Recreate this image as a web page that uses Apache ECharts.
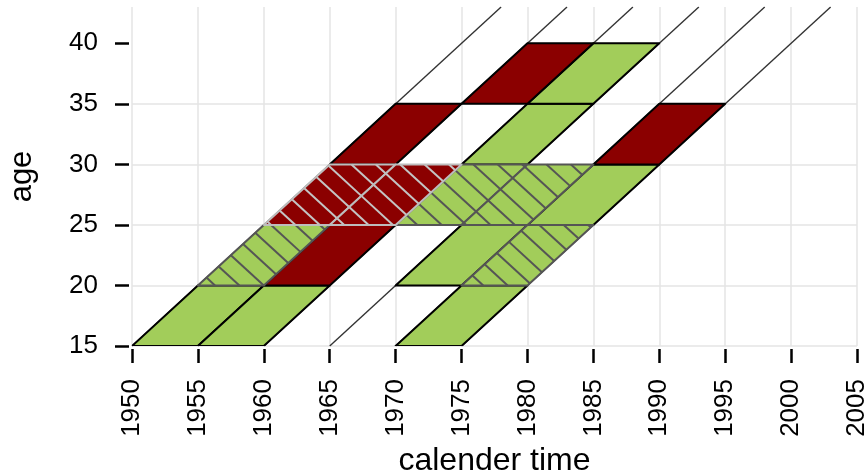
<!DOCTYPE html>
<html><head><meta charset="utf-8">
<script src="https://cdn.jsdelivr.net/npm/echarts@6/dist/echarts.min.js"></script>
<style>html,body{margin:0;padding:0;background:#fff}#c{width:866px;height:474px}</style>
</head><body><div id="c"></div>
<script>
// ---- data ----
const yearTicks = [1950,1955,1960,1965,1970,1975,1980,1985,1990,1995,2000,2005];
const ageTicks = [15,20,25,30,35,40];
const ageMin = 15, ageMax = 43;
const band = 5; // width of age / period band (years)
// cells: [calendar year at lower-left corner, age at lower edge]
const greenCells = [[1950,15],[1955,15],[1970,15],[1970,20],[1980,25],[1975,30],[1980,35]];
const redCells = [[1960,20],[1965,30],[1985,30],[1975,35]];
const greenHatchedCells = [[1955,20],[1975,20],[1970,25],[1975,25]];
const redHatchedCells = [[1960,25],[1965,25]];
// life lines start at age 15 in these years
const lifelineStarts = [1950,1955,1960,1965,1970,1975];

const GREEN = '#A2CD5A', RED = '#8B0000';
const hatchStep = 1.85, hatchPhase = 1980;
const FONT = 'Liberation Sans, Arial, sans-serif';

function makeRender(fill, stroke, hatchColor) {
  return function (params, api) {
    const x0 = api.value(0), a = api.value(1);
    const corners = [[x0, a], [x0 + band, a], [x0 + 2 * band, a + band], [x0 + band, a + band]];
    const pts = corners.map(p => api.coord(p));
    const children = [{ type: 'polygon', shape: { points: pts }, style: { fill: fill, stroke: null } }];
    if (hatchColor) {
      const u0 = x0 - a;
      const cmin = x0 + a, cmax = x0 + 3 * band + a;
      const k0 = Math.ceil((cmin - hatchPhase) / hatchStep), k1 = Math.floor((cmax - hatchPhase) / hatchStep);
      for (let k = k0; k <= k1; k++) {
        const c = hatchPhase + k * hatchStep;
        const lo = Math.max(a, (c - u0 - band) / 2), hi = Math.min(a + band, (c - u0) / 2);
        if (hi - lo > 1e-6) {
          const p1 = api.coord([c - lo, lo]), p2 = api.coord([c - hi, hi]);
          children.push({ type: 'line', shape: { x1: p1[0], y1: p1[1], x2: p2[0], y2: p2[1] },
            style: { stroke: hatchColor, lineWidth: 2 } });
        }
      }
    }
    children.push({ type: 'polygon', shape: { points: pts }, style: { fill: null, stroke: stroke, lineWidth: 2, lineJoin: 'round' } });
    return { type: 'group', children: children };
  };
}

function cellSeries(data, fill, stroke, hatchColor, z) {
  return { type: 'custom', data: data, encode: { x: 0, y: 1 }, z: z, clip: true, silent: true,
    renderItem: makeRender(fill, stroke, hatchColor) };
}

const lifelineSeries = lifelineStarts.map(y0 => ({
  type: 'line', data: [[y0, ageMin], [y0 + (ageMax - ageMin), ageMax]], symbol: 'none', silent: true, z: 1,
  lineStyle: { color: '#333', width: 1.4 }, clip: true
}));

const chart = echarts.init(document.getElementById('c'), null, { renderer: 'canvas' });
chart.setOption({
  animation: false,
  backgroundColor: '#fff',
  grid: { left: 132, right: 9, top: 7, bottom: 128, containLabel: false, outerBoundsMode: 'none' },
  xAxis: {
    type: 'value', min: yearTicks[0], max: yearTicks[yearTicks.length - 1], interval: 5, offset: 3,
    axisLine: { show: false },
    axisTick: { show: true, length: 14, lineStyle: { color: '#000', width: 2.5 } },
    axisLabel: { rotate: 90, margin: 30, fontSize: 26, color: '#000', fontFamily: FONT, formatter: v => String(v) },
    splitLine: { show: true, lineStyle: { color: '#e4e4e4', width: 1.5 } },
    name: 'calender time', nameLocation: 'middle', nameGap: 94,
    nameTextStyle: { fontSize: 32, color: '#000', fontFamily: FONT }
  },
  yAxis: {
    type: 'value', min: ageMin, max: ageMax, interval: 5, offset: 3,
    axisLine: { show: false },
    axisTick: { show: true, length: 14, lineStyle: { color: '#000', width: 2.5 }, customValues: ageTicks },
    axisLabel: { margin: 31, fontSize: 26, color: '#000', fontFamily: FONT, customValues: ageTicks },
    splitLine: { show: true, showMaxLine: false, lineStyle: { color: '#e4e4e4', width: 1.5 } },
    name: 'age', nameLocation: 'middle', nameGap: 91,
    nameTextStyle: { fontSize: 31, color: '#000', fontFamily: FONT }
  },
  series: [
    ...lifelineSeries,
    cellSeries(greenCells, GREEN, '#000', null, 2),
    cellSeries(redCells, RED, '#000', null, 2),
    cellSeries(greenHatchedCells, GREEN, '#555', '#555', 3),
    cellSeries(redHatchedCells, RED, '#bdbdbd', '#c4c4c4', 3)
  ]
});
</script></body></html>
